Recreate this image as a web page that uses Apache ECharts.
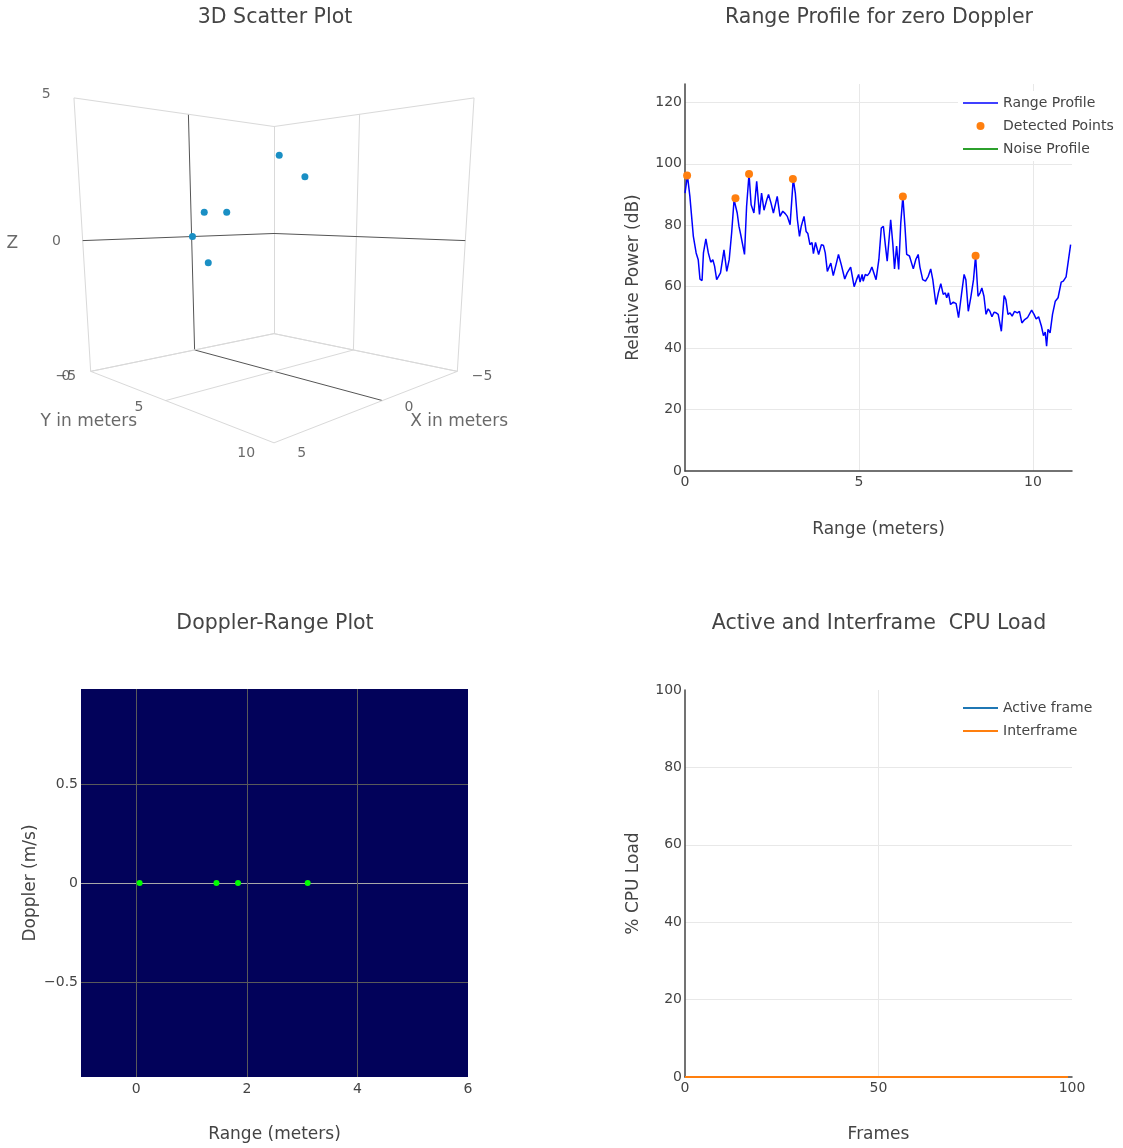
<!DOCTYPE html>
<html>
<head>
<meta charset="utf-8">
<title>Radar plots</title>
<script src="https://cdn.jsdelivr.net/npm/echarts@6.0.0/dist/echarts.min.js"></script>
<style>
  html, body { margin: 0; padding: 0; background: #fff; }
  #chart { width: 1123px; height: 1148px; }
</style>
</head>
<body>
<div id="chart"></div>
<script>
// range profile for zero doppler (meters / dB)
const rangeM = [0.00,0.07,0.14,0.24,0.32,0.38,0.43,0.49,0.53,0.60,
  0.67,0.74,0.80,0.85,0.91,0.96,1.02,1.12,1.20,1.27,
  1.34,1.41,1.46,1.50,1.55,1.60,1.64,1.71,1.77,1.84,
  1.90,1.94,1.98,2.06,2.14,2.20,2.27,2.35,2.40,2.47,
  2.54,2.65,2.73,2.81,2.88,2.94,3.02,3.11,3.17,3.23,
  3.29,3.34,3.42,3.48,3.53,3.59,3.65,3.69,3.75,3.80,
  3.84,3.92,3.98,4.03,4.09,4.19,4.26,4.34,4.41,4.49,
  4.59,4.66,4.76,4.86,4.93,4.99,5.03,5.09,5.12,5.18,
  5.24,5.30,5.37,5.49,5.57,5.64,5.70,5.76,5.81,5.85,
  5.91,5.97,6.02,6.08,6.14,6.20,6.26,6.32,6.37,6.45,
  6.50,6.56,6.63,6.70,6.75,6.83,6.91,6.99,7.06,7.12,
  7.21,7.28,7.35,7.42,7.48,7.52,7.57,7.63,7.71,7.79,
  7.86,7.95,8.02,8.07,8.14,8.21,8.29,8.35,8.42,8.48,
  8.53,8.59,8.65,8.71,8.76,8.82,8.88,8.94,9.00,9.09,
  9.17,9.22,9.28,9.34,9.40,9.47,9.55,9.61,9.68,9.76,
  9.84,9.89,9.96,10.03,10.09,10.16,10.24,10.30,10.35,10.39,
  10.43,10.49,10.56,10.64,10.72,10.81,10.87,10.95,11.08]
const powerDb = [90.5,96.2,89.4,76.4,71.0,68.8,62.5,62.0,71.0,75.6,
  71.0,68.0,68.8,66.7,62.3,61.9,64.5,72.0,65.0,68.8,
  77.5,88.3,88.8,84.0,79.7,77.0,77.3,70.5,86.2,96.7,
  86.7,86.2,84.0,94.3,83.5,90.5,84.9,88.3,90.0,87.3,
  84.0,89.4,82.9,84.6,83.8,82.9,80.2,95.1,90.5,81.8,
  76.4,79.7,82.9,78.0,77.3,73.7,74.4,70.8,74.4,74.2,
  70.5,73.7,73.4,71.0,65.0,67.7,63.6,67.2,70.5,67.2,
  62.5,64.5,66.4,60.0,62.3,64.0,61.5,64.0,61.8,64.0,
  63.6,64.5,66.4,62.3,68.8,79.1,79.7,73.2,68.3,68.0,
  81.8,74.2,65.8,73.2,65.6,80.8,89.4,79.7,70.5,70.0,
  69.4,65.8,68.8,70.5,66.4,62.3,61.8,63.4,65.8,62.3,
  54.2,58.0,61.0,57.5,58.0,56.4,58.0,54.2,55.0,54.5,
  49.9,58.0,64.0,62.3,52.0,56.4,62.3,70.1,56.9,58.0,
  59.6,56.9,51.0,52.8,52.0,50.2,51.7,51.5,51.0,45.5,
  57.1,55.8,51.0,51.5,50.4,52.0,51.5,52.0,48.2,49.3,
  49.9,50.4,52.4,51.0,49.5,50.2,47.2,44.1,45.2,40.6,
  46.1,45.0,51.0,55.3,56.4,61.5,61.8,63.2,73.7]

// detected objects
const detRange = [0.06, 1.45, 1.84, 3.10, 6.26, 8.35]
const detPower = [96.2, 88.8, 96.7, 95.1, 89.4, 70.1]
const detDoppler = [0, 0, 0, 0, 0, 0]
const detX = [0.00, -0.12, 0.43, 0.47, 0.22, 1.59]
const detY = [0.06, 0.95, 1.45, 2.89, 5.48, 7.94]
const detZ = [0.00, -1.07, 1.03, 1.03, 3.00, 2.11]

// cpu load
const cpuFrames = [0, 99]
const activeLoad = [0, 0]
const interLoad = [0, 0]

// 3d scene axes
const sceneX = [-5, 5]
const sceneY = [0, 10]
const sceneZ = [-5, 5]
const sceneXTicks = [-5, 0, 5]
const sceneYTicks = [0, 5, 10]
const sceneZTicks = [-5, 0, 5]

const textColor = '#444'
const fontName = 'DejaVu Sans'

// camera of the 3d scene (unit cube coords), projected onto a hidden grid
const eye = [3.074, 3.074, 0.212]
const pitchSin = 0.188
const pitchCos = Math.sqrt(1 - pitchSin * pitchSin)
const focal = 583
const boxRange = [sceneX, sceneY, sceneZ]

function project(p) {
  const n = p.map((v, i) => (v - boxRange[i][0]) / (boxRange[i][1] - boxRange[i][0]) * 2 - 1)
  const d = [n[0] - eye[0], n[1] - eye[1], n[2] - eye[2]]
  const s = (d[0] + d[1]) / Math.SQRT2
  const xc = (d[1] - d[0]) / Math.SQRT2
  const yc = -pitchSin * s + pitchCos * d[2]
  const zc = -pitchCos * s - pitchSin * d[2]
  return [focal * xc / zc, focal * yc / zc]
}

const minusFmt = v => v < 0 ? '\u2212' + Math.abs(v) : String(v)

const gridColor = '#d9d9d9'
const zeroColor = '#555'
const sceneLines = []
function addLine(a, b, dark) {
  sceneLines.push({ coords: [project(a), project(b)], lineStyle: { color: dark ? zeroColor : gridColor } })
}
const [x0, x1] = sceneX, [y0, y1] = sceneY, [z0, z1] = sceneZ
// wall at y = min
sceneXTicks.forEach(x => addLine([x, y0, z0], [x, y0, z1], x === 0))
sceneZTicks.forEach(z => addLine([x0, y0, z], [x1, y0, z], z === 0))
// wall at x = min
sceneYTicks.forEach(y => addLine([x0, y, z0], [x0, y, z1], false))
sceneZTicks.forEach(z => addLine([x0, y0, z], [x0, y1, z], z === 0))
// floor
sceneXTicks.forEach(x => addLine([x, y0, z0], [x, y1, z0], x === 0))
sceneYTicks.forEach(y => addLine([x0, y, z0], [x1, y, z0], false))

const pad = 1
const titlePad = 2.7
const sceneLabels = []
sceneXTicks.forEach(x => sceneLabels.push({ name: minusFmt(x), value: project([x, y1 + pad, z0]) }))
sceneYTicks.forEach(y => sceneLabels.push({ name: minusFmt(y), value: project([x1 + pad, y, z0]) }))
sceneZTicks.forEach(z => sceneLabels.push({ name: minusFmt(z), value: project([x1 + pad, y0, z]) }))
const bigLabel = { fontSize: 17 }
sceneLabels.push({ name: 'X in meters', value: project([0, y1 + titlePad, z0]), label: bigLabel })
sceneLabels.push({ name: 'Y in meters', value: project([x1 + titlePad, (y0 + y1) / 2, z0]), label: bigLabel })
sceneLabels.push({ name: 'Z', value: project([x1 + 2.55, y0, 0]), label: bigLabel })

const scenePoints = detX.map((x, i) => project([x, detY[i], detZ[i]]))

const chartInstance = echarts.init(document.getElementById('chart'))

const axisText = { color: textColor, fontFamily: fontName, fontSize: 14 }
const nameText = { color: textColor, fontFamily: fontName, fontSize: 17 }
const titleText = { color: textColor, fontFamily: fontName, fontSize: 20.5, fontWeight: 'normal' }
const legendText = { color: textColor, fontSize: 14, fontFamily: fontName }
// thin bar icons for line series in the legend
const lineIcon = 'path://M0,0H35V1.8H0Z'

const initOption = {
  animation: false,
  backgroundColor: '#fff',
  textStyle: { fontFamily: fontName },
  title: [
    { text: '3D Scatter Plot', left: 275, top: 7, textAlign: 'center', padding: 0, textStyle: titleText },
    { text: 'Range Profile for zero Doppler', left: 879, top: 7, textAlign: 'center', padding: 0, textStyle: titleText },
    { text: 'Doppler-Range Plot', left: 275, top: 613, textAlign: 'center', padding: 0, textStyle: titleText },
    { text: 'Active and Interframe  CPU Load', left: 879, top: 613, textAlign: 'center', padding: 0, textStyle: titleText }
  ],
  legend: [
    {
      data: [
        { name: 'Range Profile', icon: 'path://M0,0H35V1.4H0Z' },
        { name: 'Detected Points', icon: 'circle' },
        { name: 'Noise Profile', icon: lineIcon }
      ],
      orient: 'vertical', left: 958, top: 91, itemWidth: 35, itemHeight: 8, itemGap: 9,
      backgroundColor: '#fff', padding: [5, 5, 5, 5], textStyle: legendText
    },
    {
      data: [{ name: 'Active frame', icon: lineIcon }, { name: 'Interframe', icon: lineIcon }],
      orient: 'vertical', left: 958, top: 696, itemWidth: 35, itemHeight: 8, itemGap: 9,
      backgroundColor: '#fff', padding: [5, 5, 5, 5], textStyle: legendText
    }
  ],
  grid: [
    { left: 685, top: 84, width: 387, height: 387 },
    { left: 81, top: 689, width: 387, height: 388, show: true, backgroundColor: '#02025a', borderWidth: 0 },
    { left: 685, top: 690, width: 387, height: 387 },
    { left: 0, top: 40, width: 548, height: 440 }
  ],
  xAxis: [
    {
      gridIndex: 0, type: 'value', min: 0, max: 11.12, interval: 5,
      name: 'Range (meters)', nameLocation: 'middle', nameGap: 50, nameTextStyle: nameText,
      axisLine: { lineStyle: { color: '#444', width: 1.5 } },
      axisTick: { show: false },
      axisLabel: { ...axisText, margin: 4, showMaxLabel: false },
      splitLine: { show: true, showMinLine: false, showMaxLine: false, lineStyle: { color: '#e8e8e8' } }
    },
    {
      gridIndex: 1, type: 'value', min: -1, max: 6,
      name: 'Range (meters)', nameLocation: 'middle', nameGap: 49, nameTextStyle: nameText,
      axisLine: { show: false },
      axisTick: { show: false, customValues: [0, 2, 4, 6] },
      axisLabel: { ...axisText, margin: 5, customValues: [0, 2, 4, 6] },
      splitLine: { show: true, showMaxLine: false, lineStyle: { color: '#5a5a5a' } }
    },
    {
      gridIndex: 2, type: 'value', min: 0, max: 100, interval: 50,
      name: 'Frames', nameLocation: 'middle', nameGap: 49, nameTextStyle: nameText,
      axisLine: { lineStyle: { color: '#444', width: 1.5 } },
      axisTick: { show: false },
      axisLabel: { ...axisText, margin: 4 },
      splitLine: { show: true, showMinLine: false, showMaxLine: false, lineStyle: { color: '#e8e8e8' } }
    },
    { gridIndex: 3, type: 'value', min: -274, max: 274, show: false }
  ],
  yAxis: [
    {
      gridIndex: 0, type: 'value', min: 0, max: 126, interval: 20,
      name: 'Relative Power (dB)', nameLocation: 'middle', nameGap: 43, nameTextStyle: nameText,
      axisLine: { show: true, lineStyle: { color: '#444', width: 1.5 } },
      axisTick: { show: false },
      axisLabel: { ...axisText, margin: 3, showMaxLabel: false },
      splitLine: { show: true, showMinLine: false, showMaxLine: false, lineStyle: { color: '#e8e8e8' } }
    },
    {
      gridIndex: 1, type: 'value', min: -0.98, max: 0.98,
      name: 'Doppler (m/s)', nameLocation: 'middle', nameGap: 42, nameTextStyle: nameText,
      axisLine: { show: false },
      axisTick: { show: false, customValues: [-0.5, 0, 0.5] },
      axisLabel: { ...axisText, margin: 3, customValues: [-0.5, 0, 0.5], formatter: minusFmt },
      splitLine: { show: true, lineStyle: { color: ['#5a5a5a', '#a8a8a8', '#5a5a5a'] } }
    },
    {
      gridIndex: 2, type: 'value', min: 0, max: 100, interval: 20,
      name: '% CPU Load', nameLocation: 'middle', nameGap: 43, nameTextStyle: nameText,
      axisLine: { show: true, lineStyle: { color: '#444', width: 1.5 } },
      axisTick: { show: false },
      axisLabel: { ...axisText, margin: 3 },
      splitLine: { show: true, showMinLine: false, showMaxLine: false, lineStyle: { color: '#e8e8e8' } }
    },
    { gridIndex: 3, type: 'value', min: -157, max: 283, show: false }
  ],
  series: [
    {
      name: 'Range Profile', type: 'line', xAxisIndex: 0, yAxisIndex: 0,
      symbol: 'none', color: '#0000ff', lineStyle: { width: 1.5 },
      data: rangeM.map((r, i) => [r, powerDb[i]])
    },
    {
      name: 'Detected Points', type: 'scatter', xAxisIndex: 0, yAxisIndex: 0,
      symbolSize: 8, color: '#ff7f0e', itemStyle: { opacity: 1 }, z: 3,
      data: detRange.map((r, i) => [r, detPower[i]])
    },
    {
      name: 'Noise Profile', type: 'line', xAxisIndex: 0, yAxisIndex: 0,
      symbol: 'none', color: '#2ca02c', lineStyle: { width: 2 }, data: []
    },
    {
      name: 'Detected', type: 'scatter', xAxisIndex: 1, yAxisIndex: 1, clip: true,
      symbolSize: 6, color: '#00ff00', itemStyle: { opacity: 1 },
      data: detRange.map((r, i) => [r, detDoppler[i]])
    },
    {
      name: 'Active frame', type: 'line', xAxisIndex: 2, yAxisIndex: 2,
      symbol: 'none', color: '#1f77b4', lineStyle: { width: 2 },
      data: cpuFrames.map((f, i) => [f, activeLoad[i]])
    },
    {
      name: 'Interframe', type: 'line', xAxisIndex: 2, yAxisIndex: 2,
      symbol: 'none', color: '#ff7f0e', lineStyle: { width: 2 },
      data: cpuFrames.map((f, i) => [f, interLoad[i]])
    },
    {
      name: 'scene grid', type: 'lines', coordinateSystem: 'cartesian2d', xAxisIndex: 3, yAxisIndex: 3,
      silent: true, lineStyle: { width: 1, opacity: 1, curveness: 0 }, data: sceneLines
    },
    {
      name: 'scene labels', type: 'scatter', xAxisIndex: 3, yAxisIndex: 3, clip: false,
      symbolSize: 0, silent: true,
      label: { show: true, position: 'inside', formatter: '{b}', color: textColor, fontSize: 14, fontFamily: fontName },
      data: sceneLabels
    },
    {
      name: 'Detected 3D', type: 'scatter', xAxisIndex: 3, yAxisIndex: 3, clip: false,
      symbolSize: 7, color: '#1a8fc4', itemStyle: { opacity: 1 }, z: 4,
      data: scenePoints
    }
  ]
}
chartInstance.setOption(initOption)
</script>
</body>
</html>
